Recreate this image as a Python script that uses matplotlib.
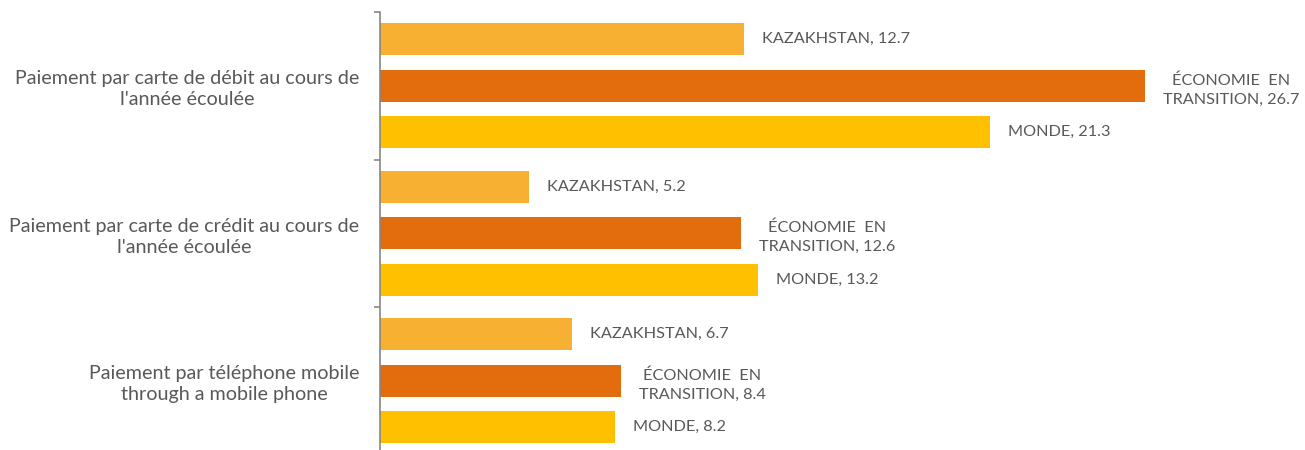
import numpy as np
import matplotlib.pyplot as plt

# categories top to bottom
categories = [
    "Paiement par carte de débit au cours de\nl'année écoulée",
    "Paiement par carte de crédit au cours de\nl'année écoulée",
    "Paiement par téléphone mobile\nthrough a mobile phone",
]
series_names = ["KAZAKHSTAN", "ÉCONOMIE  EN\nTRANSITION", "MONDE"]
kazakhstan = [12.7, 5.2, 6.7]
economie = [26.7, 12.6, 8.4]
monde = [21.3, 13.2, 8.2]
colors = ["#F7B032", "#E36C0C", "#FFC000"]

text_col = "#595959"
plt.rcParams["font.family"] = ["Lato", "DejaVu Sans"]

fig = plt.figure(figsize=(13.05, 4.5), dpi=100)
ax = fig.add_axes([380 / 1305, -4.5 / 450, (1305 - 380) / 1305, 442.5 / 450])

y = np.arange(len(categories))
offset = 0.315
height = 0.217

for i, (vals, name, col) in enumerate(zip([kazakhstan, economie, monde], series_names, colors)):
    pos = y + (i - 1) * offset
    ax.barh(pos, vals, height=height, color=col)
    for p, v in zip(pos, vals):
        dy = -3 if "\n" in name else 0
        ax.annotate(f"{name}, {v}", (v, p), xytext=(13, dy), textcoords="offset points",
                    ha="left", va="center", ma="center", fontsize=11.7, color=text_col,
                    linespacing=1.45)

ax.set_xlim(0, 32.3)
ax.set_ylim(2.5, -0.5)

ax.set_yticks(y)
ax.set_yticklabels(categories, fontsize=14.2, color=text_col, ma="center", linespacing=1.3)
ax.tick_params(axis="y", which="major", length=0, pad=15)
ax.set_yticks([-0.5, 0.5, 1.5, 2.5], minor=True)
ax.tick_params(axis="y", which="minor", length=4, width=1.2, color="#868686")
ax.set_xticks([])

for s in ["top", "right", "bottom"]:
    ax.spines[s].set_visible(False)
ax.spines["left"].set_color("#868686")
ax.spines["left"].set_linewidth(1.2)

fig.savefig("out.png", dpi=100)
